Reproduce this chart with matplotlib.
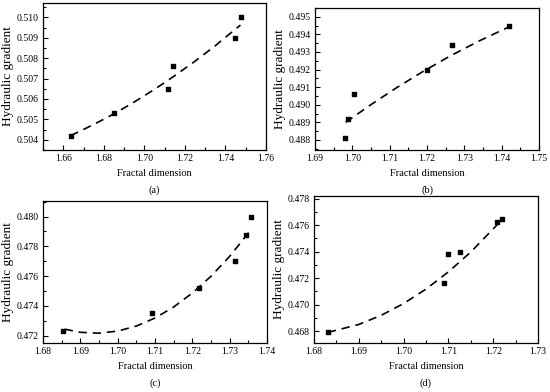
import matplotlib
matplotlib.use("Agg")
import matplotlib.pyplot as plt
from matplotlib.ticker import MultipleLocator, FormatStrFormatter

plt.rcParams['font.family'] = ['Liberation Serif', 'DejaVu Serif']
plt.rcParams['font.size'] = 7

# (a)
a_x = [1.6636, 1.685, 1.7119, 1.7141, 1.7448, 1.7475]
a_y = [0.5042, 0.5053, 0.5065, 0.5076, 0.5090, 0.5100]
a_fit_x = [1.6636, 1.675, 1.685, 1.695, 1.705, 1.715, 1.725, 1.735, 1.7474]
a_fit_y = [0.50420, 0.50475, 0.50527, 0.50585, 0.50647, 0.50714, 0.50785, 0.50861, 0.50962]

# (b)
b_x = [1.6980, 1.6988, 1.7005, 1.7200, 1.7268, 1.7420]
b_y = [0.4881, 0.4892, 0.4906, 0.4920, 0.4934, 0.4945]
b_fit_x = [1.6982, 1.705, 1.712, 1.719, 1.726, 1.734, 1.742]
b_fit_y = [0.48900, 0.49001, 0.49099, 0.49190, 0.49275, 0.49363, 0.49443]

# (c)
c_x = [1.6854, 1.7091, 1.7217, 1.7313, 1.7344, 1.7358]
c_y = [0.47234, 0.47352, 0.47522, 0.47701, 0.47875, 0.4800]
c_fit_x = [1.6858, 1.690, 1.695, 1.700, 1.705, 1.710, 1.715, 1.720, 1.725, 1.730, 1.736]
c_fit_y = [0.47243, 0.47222, 0.47216, 0.47230, 0.47264, 0.47318, 0.47392, 0.47486,
           0.47599, 0.47733, 0.47920]

# (d)
d_x = [1.6831, 1.7090, 1.7098, 1.7125, 1.7209, 1.7220]
d_y = [0.4679, 0.4716, 0.4738, 0.4740, 0.4762, 0.4765]
d_fit_x = [1.6831, 1.690, 1.695, 1.700, 1.705, 1.710, 1.715, 1.7218]
d_fit_y = [0.4679, 0.46850, 0.46919, 0.47008, 0.47117, 0.47247, 0.47397, 0.47635]

W, H = 550, 392
fig = plt.figure(figsize=(W / 100, H / 100), dpi=100)


def make_axes(l, t, r, b):
    return fig.add_axes([l / W, (H - b) / H, (r - l) / W, (b - t) / H])


panels = [
    (make_axes(43, 3, 266, 150), a_x, a_y, a_fit_x, a_fit_y, (1.65, 1.76), (0.5035, 0.5107),
     0.02, 0.01, 0.001, 0.0005, '(a)'),
    (make_axes(315, 8, 539, 150), b_x, b_y, b_fit_x, b_fit_y, (1.69, 1.75), (0.48743, 0.4955),
     0.01, 0.005, 0.001, 0.0005, '(b)'),
    (make_axes(43, 201, 267, 343), c_x, c_y, c_fit_x, c_fit_y, (1.68, 1.74), (0.4715, 0.48105),
     0.01, 0.005, 0.002, 0.001, '(c)'),
    (make_axes(314, 196, 538, 343), d_x, d_y, d_fit_x, d_fit_y, (1.68, 1.73), (0.4671, 0.4782),
     0.01, 0.005, 0.002, 0.001, '(d)'),
]

for (ax, x, y, fx, fy, xl, yl, xmaj, xmin, ymaj, ymin, cap) in panels:
    ax.plot(fx, fy, color='black', lw=1.2, ls=(0, (5, 3.5)))
    ax.scatter(x, y, s=5, marker='s', color='black', zorder=3)
    ax.set_xlim(*xl)
    ax.set_ylim(*yl)
    ax.xaxis.set_major_locator(MultipleLocator(xmaj))
    ax.xaxis.set_minor_locator(MultipleLocator(xmin))
    ax.yaxis.set_major_locator(MultipleLocator(ymaj))
    ax.yaxis.set_minor_locator(MultipleLocator(ymin))
    ax.xaxis.set_major_formatter(FormatStrFormatter('%.2f'))
    ax.yaxis.set_major_formatter(FormatStrFormatter('%.3f'))
    ax.tick_params(which='both', direction='in', width=0.8, pad=3, labelsize=7)
    ax.tick_params(which='major', length=3.5)
    ax.tick_params(which='minor', length=2)
    for s in ax.spines.values():
        s.set_linewidth(0.9)
    ax.set_xlabel('Fractal dimension', labelpad=4, fontsize=7.5)
    ax.set_ylabel('Hydraulic gradient', labelpad=2, fontsize=9.5)
    h = ax.get_position().height * H
    ax.text(0.5, -40 / h, cap, transform=ax.transAxes, ha='center', va='center', fontsize=7.5)

fig.savefig('out.png', dpi=100)
